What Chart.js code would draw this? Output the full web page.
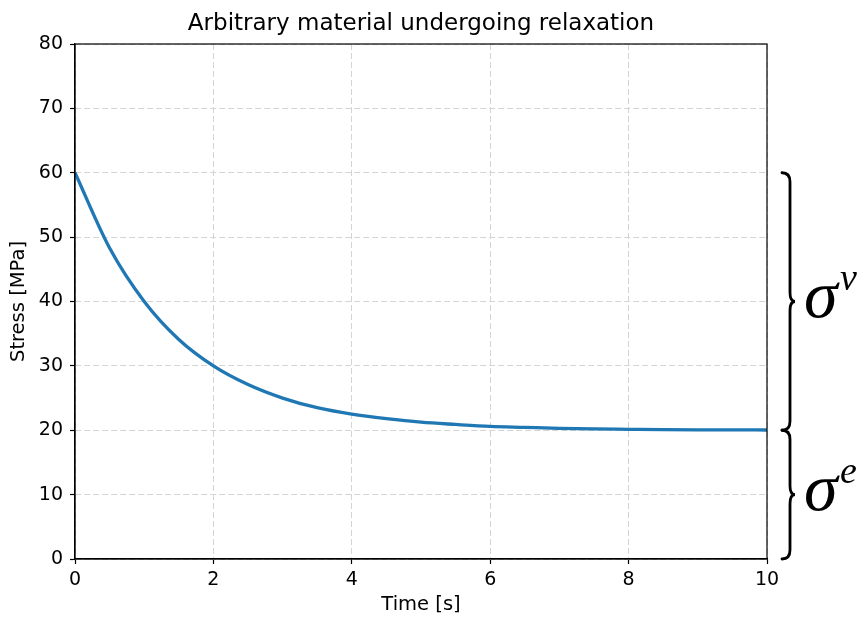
<!DOCTYPE html>
<html lang="en">
<head>
    <meta charset="UTF-8">
    <title>Arbitrary material undergoing relaxation</title>
    <script src="https://cdn.jsdelivr.net/npm/chart.js"></script>
    <style>
        body {
            margin: 0;
            padding: 0;
            background-color: #fff;
        }
        .chart-box {
            width: 864px;
            height: 617px;
        }
    </style>
</head>
<body>
    <div class="chart-box">
        <canvas id="relaxChart"></canvas>
    </div>

    <script>
        // values
        const timeValues = [0, 0.5, 1, 1.5, 2, 2.5, 3, 3.5, 4, 4.5, 5, 5.5, 6, 6.5, 7, 7.5, 8, 8.5, 9, 9.5, 10];
        const stressValues = [60, 48.3, 40, 34.1, 30, 27.1, 25, 23.5, 22.5, 21.8, 21.25, 20.9, 20.6, 20.45, 20.3, 20.2, 20.15, 20.1, 20.07, 20.05, 20.04];
        const xTicks = [0, 2, 4, 6, 8, 10];
        const yTicks = [0, 10, 20, 30, 40, 50, 60, 70, 80];
        const chartTitle = 'Arbitrary material undergoing relaxation';

        // braces on the right: [from, to] in stress units, and their superscripts
        const braceRanges = [[20, 60], [0, 20]];
        const braceLabels = ['v', 'e'];

        const frameAndBraces = {
            id: 'frameAndBraces',
            afterDraw(chart) {
                const ctx = chart.ctx;
                const area = chart.chartArea;
                const y = chart.scales.y;

                ctx.save();
                ctx.strokeStyle = '#000';
                ctx.lineWidth = 1.2;
                ctx.strokeRect(area.left, area.top, area.right - area.left, area.bottom - area.top);

                // title, centred over the plot area
                ctx.fillStyle = '#000';
                ctx.font = '23px "DejaVu Sans"';
                ctx.textAlign = 'center';
                ctx.textBaseline = 'middle';
                ctx.fillText(chartTitle, (area.left + area.right) / 2, 24);

                const x0 = area.right + 15;
                const xs = area.right + 23;
                const xt = area.right + 28;
                braceRanges.forEach(function (range, i) {
                    const y1 = y.getPixelForValue(range[1]);
                    const y2 = y.getPixelForValue(range[0]);
                    const ym = (y1 + y2) / 2;
                    const r = 9;
                    ctx.beginPath();
                    ctx.lineWidth = 2.8;
                    ctx.lineCap = 'round';
                    ctx.moveTo(x0, y1);
                    ctx.quadraticCurveTo(xs, y1, xs, y1 + r);
                    ctx.lineTo(xs, ym - r);
                    ctx.quadraticCurveTo(xs, ym, xt, ym);
                    ctx.quadraticCurveTo(xs, ym, xs, ym + r);
                    ctx.lineTo(xs, y2 - r);
                    ctx.quadraticCurveTo(xs, y2, x0, y2);
                    ctx.stroke();

                    ctx.textAlign = 'left';
                    ctx.textBaseline = 'alphabetic';
                    ctx.font = 'italic 68px "Liberation Serif"';
                    ctx.fillText('σ', area.right + 37, ym + 15);
                    ctx.font = 'italic 38px "Liberation Serif"';
                    ctx.fillText(braceLabels[i], area.right + 73, ym - 12);
                });
                ctx.restore();
            }
        };

        const relaxCtx = document.getElementById('relaxChart').getContext('2d');
        const relaxChart = new Chart(relaxCtx, {
            type: 'line',
            data: {
                datasets: [{
                    label: 'Stress',
                    data: timeValues.map((t, i) => ({ x: t, y: stressValues[i] })),
                    borderColor: '#1f77b4',
                    borderWidth: 3.3,
                    pointRadius: 0,
                    cubicInterpolationMode: 'monotone',
                    fill: false
                }]
            },
            options: {
                responsive: true,
                maintainAspectRatio: false,
                animation: false,
                layout: {
                    padding: { left: 0, right: 97, top: 44, bottom: 0 }
                },
                plugins: {
                    legend: { display: false },
                    tooltip: { enabled: false },
                    title: { display: false }
                },
                scales: {
                    x: {
                        type: 'linear',
                        min: 0,
                        max: 10,
                        afterBuildTicks: s => { s.ticks = xTicks.map(v => ({ value: v })); },
                        afterFit: s => { s.height = 58; },
                        ticks: {
                            color: '#000',
                            font: { family: 'DejaVu Sans', size: 19 },
                            padding: 5,
                            maxRotation: 0
                        },
                        grid: {
                            color: '#d4d4d4',
                            lineWidth: 1,
                            tickColor: '#000',
                            tickLength: 5,
                            tickWidth: 1.2,
                            tickBorderDash: []
                        },
                        border: { color: '#000', width: 1.2, dash: [6, 3] },
                        title: {
                            display: true,
                            text: 'Time [s]',
                            color: '#000',
                            font: { family: 'DejaVu Sans', size: 19.5 },
                            padding: { top: 0, bottom: 0 }
                        }
                    },
                    y: {
                        min: 0,
                        max: 80,
                        afterBuildTicks: s => { s.ticks = yTicks.map(v => ({ value: v })); },
                        afterFit: s => { s.width = 75; },
                        ticks: {
                            color: '#000',
                            font: { family: 'DejaVu Sans', size: 19 },
                            padding: 7
                        },
                        grid: {
                            color: '#d4d4d4',
                            lineWidth: 1,
                            tickColor: '#000',
                            tickLength: 5,
                            tickWidth: 1.2,
                            tickBorderDash: []
                        },
                        border: { color: '#000', width: 1.2, dash: [6, 3] },
                        title: {
                            display: true,
                            text: 'Stress [MPa]',
                            color: '#000',
                            font: { family: 'DejaVu Sans', size: 19.5 },
                            padding: { top: 7, bottom: 0 }
                        }
                    }
                }
            },
            plugins: [frameAndBraces]
        });
    </script>
</body>
</html>
